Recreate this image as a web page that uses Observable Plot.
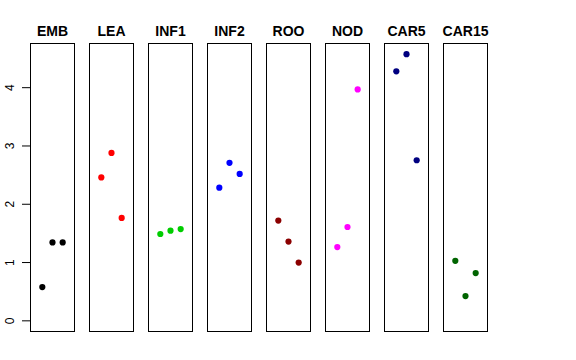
<!DOCTYPE html>
<html>
<head>
<meta charset="utf-8">
<script src="https://cdn.jsdelivr.net/npm/d3@7"></script>
<script src="https://cdn.jsdelivr.net/npm/@observablehq/plot@0.6"></script>
<style>
  body { margin: 0; background: white; }
  svg { font-family: "Liberation Sans", Arial, sans-serif; }
</style>
</head>
<body>
<div id="chart"></div>
<script>
const categories = ["EMB", "LEA", "INF1", "INF2", "ROO", "NOD", "CAR5", "CAR15"];
const colors = ["black", "red", "#00CD00", "blue", "#8B0000", "magenta", "#000080", "#006400"];
const positions = [1, 2, 3];
const emb = [0.58, 1.345, 1.345];
const lea = [2.46, 2.88, 1.765];
const inf1 = [1.49, 1.546, 1.575];
const inf2 = [2.285, 2.71, 2.52];
const roo = [1.72, 1.36, 1.0];
const nod = [1.265, 1.61, 3.97];
const car5 = [4.28, 4.575, 2.755];
const car15 = [1.03, 0.425, 0.82];
const yTicks = [0, 1, 2, 3, 4];

const series = [emb, lea, inf1, inf2, roo, nod, car5, car15];
const data = [];
series.forEach((vals, i) => {
  vals.forEach((v, j) => data.push({cat: categories[i], x: positions[j], y: v}));
});

const ymax = d3.max(data, d => d.y);
const ypad = ymax * 0.04;

const chart = Plot.plot({
  width: 576,
  height: 360,
  marginLeft: 29,
  marginRight: 88,
  marginTop: 43,
  marginBottom: 29,
  style: {fontFamily: "Liberation Sans, Arial, sans-serif", background: "white"},
  fx: {domain: categories, paddingInner: 0.254, paddingOuter: 0, axis: null, label: null},
  x: {domain: [-0.16, 4.16], axis: null},
  y: {domain: [-ypad, ymax + ypad], axis: null},
  color: {domain: categories, range: colors},
  marks: [
    Plot.frame({stroke: "black", strokeWidth: 1}),
    Plot.axisY({ticks: yTicks, tickSize: 8, tickRotate: -90, tickPadding: 9, fontSize: 12, label: null, tickFormat: d => String(d), stroke: "black", color: "black"}),
    Plot.text(categories, {fx: d => d, text: d => d, frameAnchor: "top", lineAnchor: "bottom", dy: -8, fontWeight: "bold", fontSize: 14, fill: "black"}),
    Plot.dot(data, {fx: "cat", x: "x", y: "y", fill: d => d.cat, r: 3.1, stroke: null})
  ]
});
document.getElementById("chart").appendChild(chart);
</script>
</body>
</html>
